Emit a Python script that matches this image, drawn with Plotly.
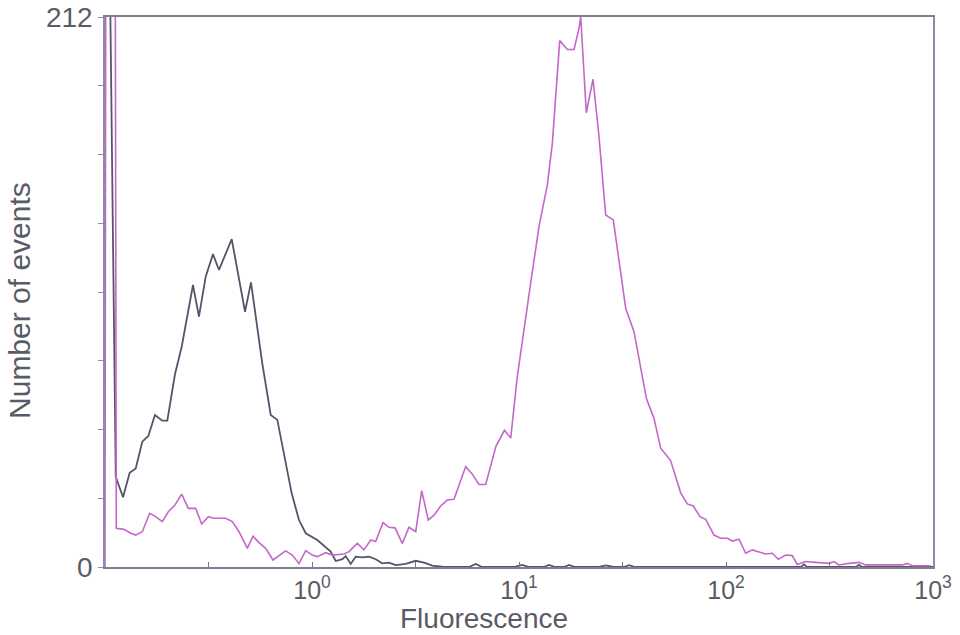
import plotly.graph_objects as go

# Fluorescence channel values (log scale) and event counts
gray_x = [0.1045, 0.1127, 0.1222, 0.1316, 0.1407, 0.1514, 0.1619, 0.1743, 0.1891, 0.2000,
          0.2179, 0.2347, 0.2661, 0.2844, 0.3065, 0.3324, 0.3554, 0.4094, 0.4747, 0.5073,
          0.5752, 0.6318, 0.6800, 0.7978, 0.8655, 0.9324, 1.061, 1.231, 1.302, 1.401,
          1.455, 1.538, 1.626, 1.750, 1.885, 2.031, 2.186, 2.355, 2.537, 2.836,
          3.170, 3.476, 3.813, 4.342, 5.735, 6.178, 6.626, 9.459, 10.34, 11.18,
          13.21, 13.96, 14.93, 16.50, 17.44, 18.64, 24.35, 26.32, 28.46, 32.16,
          34.00, 36.35, 230.0, 238.2, 246.0, 425.0, 439.1, 453.0, 1000.0]
gray_y = [260, 34.8, 26.9, 36.3, 38.0, 48.3, 50.5, 58.6, 56.4, 56.4,
          74.4, 84.9, 108.7, 96.5, 111.9, 120.6, 114.5, 126.4, 98.4, 109.7,
          78.5, 58.6, 56.7, 28.4, 18.1, 13.0, 10.4, 5.9, 2.3, 3.0,
          4.2, 1.2, 4.0, 3.7, 4.0, 3.0, 1.4, 1.7, 0.7, 1.2,
          2.4, 1.7, 0.5, 0, 0, 1.2, 0, 0, 0.8, 0,
          0, 0.8, 0, 0, 0.8, 0, 0, 0.6, 0, 0,
          0.7, 0, 0, 1.0, 0, 0, 0.8, 0, 0]

pink_x = [0.1, 0.1011, 0.1117, 0.1134, 0.1235, 0.1331, 0.1407, 0.1514, 0.1644, 0.1758,
          0.1891, 0.2022, 0.2179, 0.2347, 0.2526, 0.2743, 0.2931, 0.3155, 0.3362, 0.3830,
          0.4121, 0.4440, 0.4868, 0.5188, 0.5546, 0.5974, 0.6479, 0.7462, 0.8031, 0.8655,
          0.9324, 1.003, 1.061, 1.165, 1.253, 1.428, 1.509, 1.655, 1.783, 1.921,
          2.031, 2.203, 2.355, 2.518, 2.731, 2.942, 3.170, 3.388, 3.646, 3.885,
          4.184, 4.504, 4.853, 5.527, 5.949, 6.409, 6.904, 7.743, 8.511, 9.119,
          9.813, 10.37, 11.39, 12.49, 13.70, 14.49, 15.73, 17.12, 18.44, 19.49,
          19.87, 21.14, 22.78, 24.35, 26.23, 28.55, 31.55, 32.77, 35.94, 37.99,
          41.29, 44.89, 48.36, 53.95, 60.41, 65.01, 69.50, 74.88, 79.8, 87.5,
          94.3, 101.5, 107.3, 115.6, 124.5, 134.0, 155.5, 167.3, 178.9, 194.3,
          209.1, 221.0, 242.7, 271.3, 314.5, 332.5, 351.5, 392.9, 439.1, 473.1,
          710.9, 751.4, 794.3, 974.8]
pink_y = [0, 300, 300, 14.9, 14.5, 13.0, 12.3, 13.6, 20.7, 19.4,
          17.5, 21.3, 23.9, 28.1, 22.6, 22.6, 16.6, 19.4, 18.8, 18.8,
          17.5, 13.6, 7.2, 11.9, 9.4, 7.2, 2.7, 6.2, 4.6, 1.3,
          6.3, 4.6, 4.0, 5.5, 4.6, 5.0, 5.9, 9.1, 6.6, 10.4,
          9.8, 17.1, 15.3, 15.1, 9.1, 15.3, 13.6, 29.4, 18.1, 20.0,
          23.5, 25.8, 26.1, 38.7, 35.8, 31.8, 31.8, 46.6, 52.7, 49.7,
          73.4, 87.5, 109.5, 131.2, 147.2, 163.3, 202.9, 199.5, 199.5, 207.6,
          212, 175.1, 188.0, 165.9, 135.7, 133.8, 108.0, 99.7, 90.7, 80.2,
          64.8, 57.3, 45.8, 41.1, 28.6, 24.3, 23.5, 19.4, 18.4, 12.3,
          11.1, 11.1, 10.0, 10.7, 5.3, 6.6, 5.0, 5.3, 3.0, 4.6,
          4.4, 1.0, 2.1, 1.8, 1.4, 2.1, 0.8, 1.4, 1.8, 0.8,
          0.8, 1.4, 0.5, 0.5]

x_tickvals = [0.1, 0.316, 1, 3.16, 10, 31.6, 100, 316, 1000]
x_ticktext = ["", "", "10<sup>0</sup>", "", "10<sup>1</sup>", "", "10<sup>2</sup>", "", "10<sup>3</sup>"]
y_tickvals = [0, 26.5, 53, 79.5, 106, 132.5, 159, 185.5, 212]
y_ticktext = ["0", "", "", "", "", "", "", "", "212"]

text_color = "#5b5b66"
fnt = "Liberation Sans, Arial, sans-serif"

fig = go.Figure()
fig.add_trace(go.Scatter(x=gray_x, y=gray_y, mode="lines",
                         line=dict(color="#55556a", width=1.8), showlegend=False))
fig.add_trace(go.Scatter(x=pink_x, y=pink_y, mode="lines",
                         line=dict(color="#c468c8", width=1.6), showlegend=False))

fig.update_layout(
    width=960, height=635,
    margin=dict(l=105, r=27, t=17, b=68, autoexpand=False),
    paper_bgcolor="white", plot_bgcolor="white",
    font=dict(family=fnt, color=text_color, size=27),
    xaxis=dict(type="log", range=[-1, 3], showgrid=False, zeroline=False,
               automargin=False,
               tickmode="array", tickvals=x_tickvals, ticktext=x_ticktext,
               ticks="inside", ticklen=5, tickcolor="#77778a", tickwidth=1,
               showline=True, mirror=True, linecolor="#7f7f92", linewidth=1.5,
               tickfont=dict(size=25, color=text_color, family=fnt)),
    yaxis=dict(range=[0, 212], showgrid=False, zeroline=False,
               automargin=False,
               tickmode="array", tickvals=y_tickvals, ticktext=y_ticktext,
               ticks="outside", ticklen=5, tickcolor="#9090a0", tickwidth=1,
               showline=True, mirror=True, linecolor="#8f88a6", linewidth=1.5,
               tickfont=dict(size=28, color=text_color, family=fnt)),
    annotations=[
        dict(text="Fluorescence", xref="paper", yref="paper", x=0.4577, y=-0.094,
             xanchor="center", yanchor="middle", showarrow=False,
             font=dict(size=28, color=text_color, family=fnt)),
        dict(text="Number of events", xref="paper", yref="paper", x=-0.103, y=0.485,
             xanchor="center", yanchor="middle", showarrow=False, textangle=-90,
             font=dict(size=30, color=text_color, family=fnt)),
    ],
)

fig.write_html("out.html")
